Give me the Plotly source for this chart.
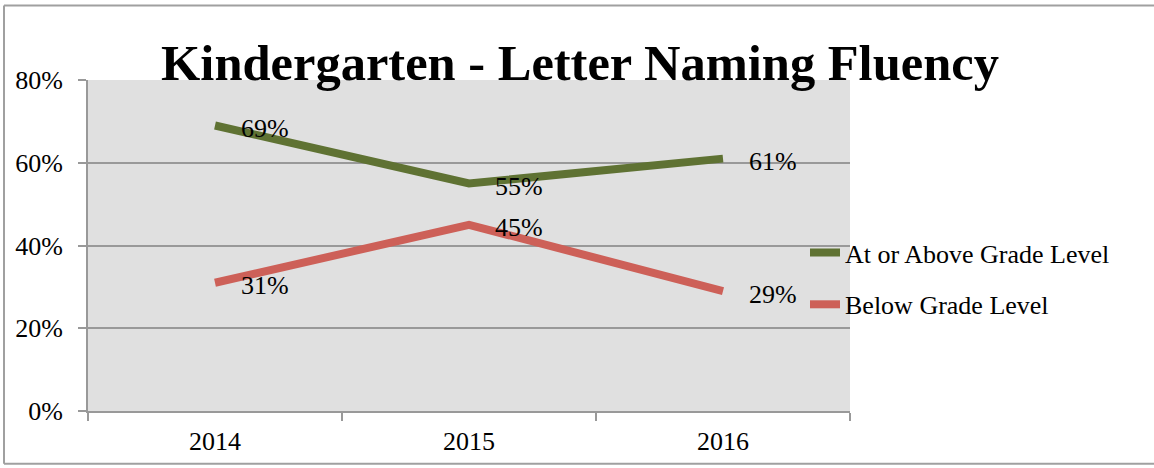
import plotly.graph_objects as go

years = ["2014", "2015", "2016"]
above = [0.69, 0.55, 0.61]
below = [0.31, 0.45, 0.29]
above_labels = ["69%", "55%", "61%"]
below_labels = ["31%", "45%", "29%"]
y_ticks = [0, 0.2, 0.4, 0.6, 0.8]
y_tick_labels = ["0%", "20%", "40%", "60%", "80%"]

GREEN = "#5f7233"
RED = "#cd6058"
SERIF = "Liberation Serif, DejaVu Serif, serif"
FS = 26

fig = go.Figure()
fig.add_trace(go.Scatter(x=years, y=above, mode="lines", name="At or Above Grade Level",
                         legendgroup="a", line=dict(color=GREEN, width=8)))
fig.add_trace(go.Scatter(x=years, y=below, mode="lines", name="Below Grade Level",
                         legendgroup="b", line=dict(color=RED, width=8)))

annotations = []
for ys, labs in [(above, above_labels), (below, below_labels)]:
    for i, (y, t) in enumerate(zip(ys, labs)):
        annotations.append(dict(x=i, y=y, xref="x", yref="y", text=t, showarrow=False,
                                xanchor="left", yanchor="middle", xshift=24, yshift=-3,
                                font=dict(family=SERIF, size=FS, color="black")))

W, H = 1154, 468
L, R, T, B = 88, 304, 80, 55
pw, ph = W - L - R, H - T - B
def px(x): return (x - L) / pw
def py(y): return (H - B - y) / ph

shapes = [
    dict(type="line", xref="paper", yref="paper", x0=px(4), x1=px(1154), y0=py(5), y1=py(5),
         line=dict(color="#a0a0a0", width=2)),
    dict(type="line", xref="paper", yref="paper", x0=px(4), x1=px(1154), y0=py(466), y1=py(466),
         line=dict(color="#a0a0a0", width=2)),
    dict(type="line", xref="paper", yref="paper", x0=px(4), x1=px(4), y0=py(5), y1=py(466),
         line=dict(color="#a0a0a0", width=2)),
]

fig.update_layout(
    width=W, height=H,
    margin=dict(l=L, r=R, t=T, b=B),
    paper_bgcolor="white",
    plot_bgcolor="#e0e0e0",
    title=dict(text="<b>Kindergarten - Letter Naming Fluency</b>", x=(580 - L) / pw,
               xref="paper", xanchor="center",
               y=1 - 62 / H, yanchor="middle",
               font=dict(family=SERIF, size=50.5, color="black")),
    showlegend=True,
    legend=dict(x=px(805), y=py(230), xanchor="left", yanchor="top",
                font=dict(family=SERIF, size=FS, color="black"),
                bgcolor="rgba(0,0,0,0)", tracegroupgap=15, itemwidth=30),
    annotations=annotations,
    shapes=shapes,
    xaxis=dict(type="category", range=[-0.5, 2.5], showgrid=False,
               showline=True, linecolor="#999999", linewidth=2,
               ticks="outside", tickson="boundaries", ticklen=8, tickcolor="#999999", tickwidth=2,
               ticklabelstandoff=6,
               tickfont=dict(family=SERIF, size=FS, color="black"), fixedrange=True),
    yaxis=dict(range=[0, 0.8], tickvals=y_ticks, ticktext=y_tick_labels,
               showgrid=True, gridcolor="#999999", gridwidth=2,
               showline=True, linecolor="#999999", linewidth=2,
               ticks="outside", ticklen=8, tickcolor="#999999", tickwidth=2,
               ticklabelstandoff=10,
               tickfont=dict(family=SERIF, size=FS, color="black"), zeroline=False),
)

fig.write_html("out.html", config={"displayModeBar": False},
               post_script="document.body.style.margin='0';")
